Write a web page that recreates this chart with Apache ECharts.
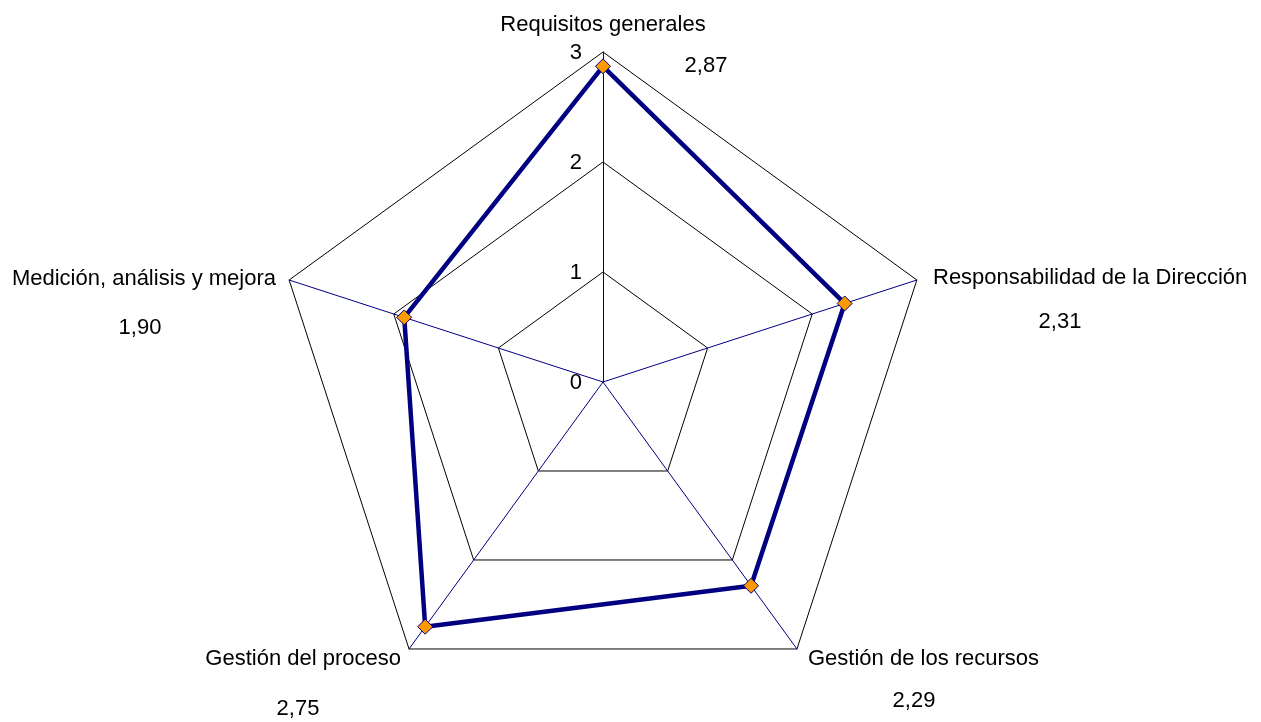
<!DOCTYPE html>
<html>
<head>
<meta charset="utf-8">
<script src="https://cdn.jsdelivr.net/npm/echarts@6/dist/echarts.min.js"></script>
<style>
  html, body { margin: 0; padding: 0; background: #ffffff; }
  #chart { width: 1261px; height: 722px; }
</style>
</head>
<body>
<div id="chart"></div>
<script>
// Categories in clockwise order starting at the top
const categories = [
  'Requisitos generales',
  'Responsabilidad de la Dirección',
  'Gestión de los recursos',
  'Gestión del proceso',
  'Medición, análisis y mejora'
];
const scores = [2.87, 2.31, 2.29, 2.75, 1.90];
const tickLabels = ['0', '1', '2', '3'];
const scaleMax = 3;

// Layout of the radar and its annotations
const CX = 603, CY = 382, R = 330;
const FONT = 'Liberation Sans, Arial, sans-serif';
const NAVY = '#000080';

// Name and value label placement per category (same order as categories)
const namePos = [
  { x: 603, y: 25, align: 'center' },
  { x: 933, y: 278, align: 'left' },
  { x: 808, y: 659, align: 'left' },
  { x: 401, y: 659, align: 'right' },
  { x: 276, y: 279, align: 'right' }
];
const valuePos = [
  { x: 706, y: 66 },
  { x: 1060, y: 322 },
  { x: 914, y: 701 },
  { x: 298, y: 709 },
  { x: 140, y: 328 }
];

const fmt = v => v.toFixed(2).replace('.', ',');

// ECharts lays radar indicators counter-clockwise, so reverse the tail
const order = [0].concat(categories.map((_, i) => i).slice(1).reverse());

const graphics = [];
categories.forEach((name, i) => {
  graphics.push({
    type: 'text', left: undefined,
    x: namePos[i].x, y: namePos[i].y,
    style: { text: name, font: '22px ' + FONT, fill: '#000', align: namePos[i].align, verticalAlign: 'middle' },
    silent: true
  });
  graphics.push({
    type: 'text',
    x: valuePos[i].x, y: valuePos[i].y,
    style: { text: fmt(scores[i]), font: '22px ' + FONT, fill: '#000', align: 'center', verticalAlign: 'middle' },
    silent: true
  });
});
tickLabels.forEach((t, k) => {
  graphics.push({
    type: 'text',
    x: 582, y: CY - (Number(t) / scaleMax) * R + 1,
    style: { text: t, font: '22px ' + FONT, fill: '#000', align: 'right', verticalAlign: 'middle' },
    silent: true
  });
});

const chart = echarts.init(document.getElementById('chart'), null, { renderer: 'canvas' });
chart.setOption({
  animation: false,
  backgroundColor: '#ffffff',
  radar: {
    center: [CX, CY],
    radius: R,
    startAngle: 90,
    shape: 'polygon',
    splitNumber: 3,
    indicator: order.map(i => ({ name: categories[i], min: 0, max: scaleMax })),
    axisName: { show: false },
    axisLine: { lineStyle: { color: NAVY, width: 1 } },
    axisTick: { show: false },
    axisLabel: { show: false },
    splitLine: { lineStyle: { color: '#000000', width: 1 } },
    splitArea: { show: false }
  },
  graphic: graphics,
  series: [{
    type: 'radar',
    symbol: 'diamond',
    symbolSize: 15,
    lineStyle: { color: NAVY, width: 4.5 },
    itemStyle: { color: '#FF9900', borderColor: NAVY, borderWidth: 1 },
    data: [{ value: order.map(i => scores[i]), name: 'Puntuación' }]
  }]
});
</script>
</body>
</html>
